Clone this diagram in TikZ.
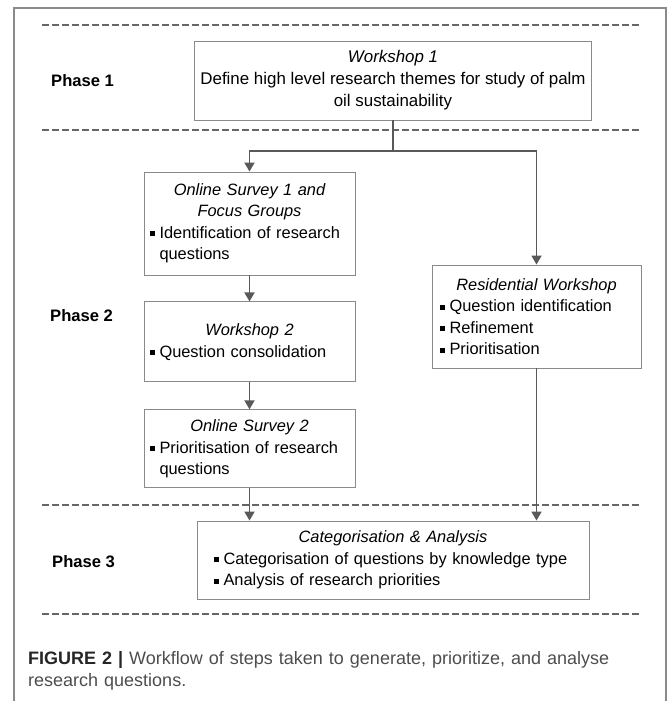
\documentclass[tikz,border=0pt]{standalone}
\usepackage{fontspec}
\setmainfont{Liberation Sans}
\usepackage{xcolor}
\usepackage{tikz}
\usetikzlibrary{arrows.meta, positioning}
\definecolor{boxgray}{RGB}{138,138,138}
\definecolor{linkgray}{RGB}{89,89,89}
\definecolor{rulegray}{RGB}{102,102,102}
\definecolor{captiongray}{RGB}{77,77,77}
\setlength{\parindent}{0pt}
\newcommand{\boxtitle}[1]{{\centering\itshape #1\par}}
\newcommand{\bitem}[1]{\par\noindent\hangindent=9.5pt\hangafter=1\makebox[9.5pt][l]{\rule[2pt]{5pt}{5pt}}#1\par}

\begin{document}
\begin{tikzpicture}[x=1pt, y=-1pt, node distance=26pt]
  \tikzstyle{stage} = [rectangle, draw=boxgray, line width=0.9pt, fill=white, inner xsep=6pt, inner ysep=3pt, align=left, font=\fontsize{16.4}{21.5}\selectfont]
  \tikzstyle{phase} = [anchor=west, inner sep=0pt, font=\fontsize{16.6}{20}\selectfont\bfseries]
  \tikzstyle{link} = [draw=linkgray, line width=1.8pt]
  \tikzstyle{arrow} = [link, -{Triangle[width=10pt, length=9pt]}]
  \tikzstyle{separator} = [draw=rulegray, line width=1.3pt, dash pattern=on 6.5pt off 3.5pt]
  \tikzstyle{frame} = [draw=boxgray, line width=1.2pt]

  \useasboundingbox (0,0) rectangle (669,701);
  \draw[frame] (14,701) |- (666,8) -- (666,701);

  % phase separators
  \foreach \y in {25,130,505,614}
    \draw[separator] (42,\y) -- (640,\y);

  \node (phase1) [phase] at (51,80.5) {Phase 1};
  \node (phase2) [phase] at (50,316) {Phase 2};
  \node (phase3) [phase] at (52,562) {Phase 3};

  \node (ws1) [stage, align=center, minimum width=392pt, minimum height=79pt, font=\fontsize{16.9}{22}\selectfont] at (393,80.5)
    {{\itshape Workshop 1}\\ Define high level research themes for study of palm\\ oil sustainability};

  \node (survey1) [stage, text width=199pt, minimum height=103pt] at (249.5,223.5)
    {\boxtitle{Online Survey 1 and\\ Focus Groups}\bitem{Identification of research\newline questions}};
  \node (ws2) [stage, text width=199pt, minimum height=80pt, below=26pt of survey1]
    {\boxtitle{Workshop 2}\bitem{Question consolidation}};
  \node (survey2) [stage, text width=199pt, minimum height=78pt, below=27pt of ws2]
    {\boxtitle{Online Survey 2}\bitem{Prioritisation of research\newline questions}};

  \node (resid) [stage, inner xsep=8pt, text width=193pt, minimum height=103pt] at (536.5,316.5)
    {\boxtitle{Residential Workshop}\bitem{Question identification}\bitem{Refinement}\bitem{Prioritisation}};

  \node (cat) [stage, inner xsep=17pt, text width=358pt, minimum height=78pt] at (393,560)
    {\boxtitle{Categorisation \& Analysis}\bitem{Categorisation of questions by knowledge type}\bitem{Analysis of research priorities}};

  % branching after workshop 1
  \coordinate (split) at (393,151);
  \draw[link] (ws1.south) -- (split);
  \draw[arrow] (split) -| (survey1.north);
  \draw[arrow] (split) -| (resid.north);

  \draw[arrow] (survey1) -- (ws2);
  \draw[arrow] (ws2) -- (survey2);
  \draw[arrow] (survey2.south) -- (survey2.south |- cat.north);
  \draw[arrow] (resid.south) -- (resid.south |- cat.north);

  \node (caption) [anchor=north west, inner sep=0pt, text width=630pt, align=left, text=captiongray, font=\fontsize{18}{22}\selectfont] at (28,651)
    {{\bfseries\color{black!85}FIGURE 2 |} Workflow of steps taken to generate, prioritize, and analyse\\ research questions.};
\end{tikzpicture}
\end{document}
